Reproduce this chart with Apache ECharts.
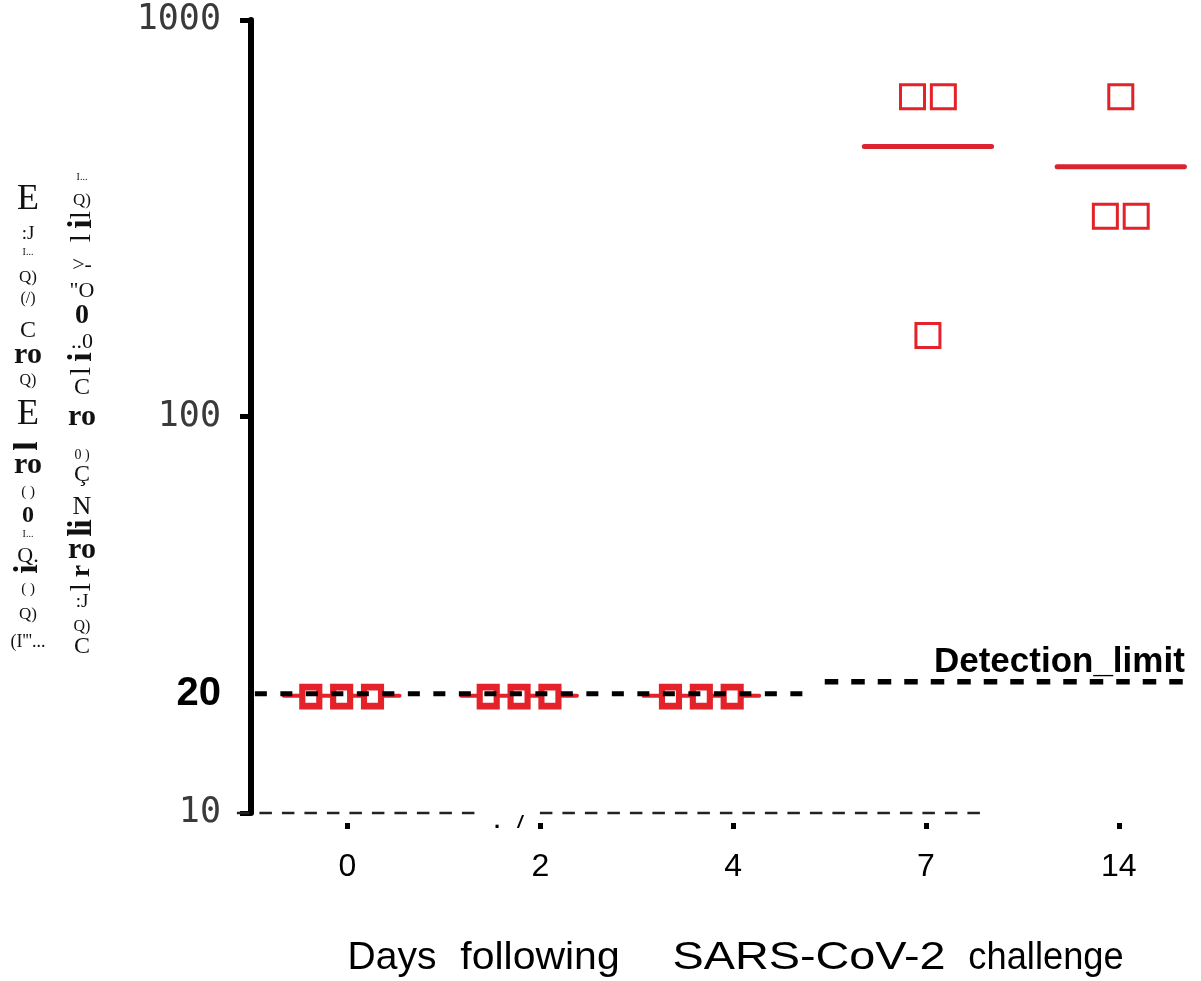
<!DOCTYPE html>
<html>
<head>
<meta charset="utf-8">
<script src="https://cdn.jsdelivr.net/npm/echarts@6/dist/echarts.min.js"></script>
<style>
  html, body { margin: 0; padding: 0; background: #fff; }
  #chart { width: 1201px; height: 981px; }
</style>
</head>
<body>
<div id="chart"></div>
<script>
// Neutralizing titers per animal, grouped by day after challenge
const days = ['0', '2', '4', '7', '14'];
const titerDay0 = [20, 20, 20];
const titerDay2 = [20, 20, 20];
const titerDay4 = [20, 20, 20];
const titerDay7 = [640, 640, 160];
const titerDay14 = [640, 320, 320];
const yTickValues = [10, 20, 100, 1000];
const detectionLimit = 20;
const xTitleWords = ['Days', 'following', 'SARS-CoV-2', 'challenge'];

const titers = [titerDay0, titerDay2, titerDay4, titerDay7, titerDay14];

// layout: horizontal nudge of each group and spacing between tied points (axis units)
const groupShift = [-0.03, -0.11, -0.165, 0.01, 0.01];
const tieSpacing = 0.16;
const RED = '#e4222a';

function spreadGroup(values, i) {
  const pts = [];
  const seen = {};
  values.forEach(v => { seen[v] = (seen[v] || 0) + 1; });
  const used = {};
  values.forEach(v => {
    const n = seen[v];
    const k = used[v] || 0;
    used[v] = k + 1;
    const off = (k - (n - 1) / 2) * tieSpacing;
    pts.push([i + groupShift[i] + off, v]);
  });
  return pts;
}

const atLimitPts = [];
const abovePts = [];
titers.forEach((vals, i) => {
  spreadGroup(vals, i).forEach(p => {
    (p[1] <= detectionLimit ? atLimitPts : abovePts).push(p);
  });
});

const meanData = titers.map((vals, i) => [
  i + groupShift[i],
  vals.reduce((a, b) => a + b, 0) / vals.length,
  i
]);

function renderMean(params, api) {
  const cx = api.value(0), v = api.value(1), i = api.value(2);
  const hw = i < 3 ? 0.3 : 0.33;
  const a = api.coord([cx - hw, v]);
  const b = api.coord([cx + hw, v]);
  const low = v <= detectionLimit;
  return {
    type: 'line',
    shape: { x1: a[0], y1: a[1] + (low ? 2 : 0), x2: b[0], y2: b[1] + (low ? 2 : 0) },
    style: { stroke: low ? RED : '#dc2430', lineWidth: low ? 4 : 5, lineCap: 'round' }
  };
}

function renderGuides(params, api) {
  const yMin = yTickValues[0];
  const seg = (x1, x2, v, dy, style) => {
    const a = api.coord([x1, v]);
    const b = api.coord([x2, v]);
    return { type: 'line', shape: { x1: a[0], y1: a[1] + dy, x2: b[0], y2: b[1] + dy }, style };
  };
  const base = { stroke: '#222', lineWidth: 2.5, lineDash: [12.5, 10] };
  const lim = { stroke: '#000', lineWidth: 5, lineDash: [12, 13.5] };
  const lim2 = { stroke: '#000', lineWidth: 5.5, lineDash: [13.5, 13] };
  const lbl = api.coord([4.342, detectionLimit]);
  return {
    type: 'group',
    children: [
      seg(-0.573, 0.687, yMin, 0, base),
      seg(0.998, 3.305, yMin, 0, base),
      seg(-0.48, 2.40, detectionLimit, 0, lim),
      seg(2.475, 4.38, detectionLimit, -12, lim2),
      {
        type: 'text',
        x: lbl[0], y: lbl[1] - 31,
        style: {
          text: 'Detection_limit',
          fontFamily: '"Liberation Sans Narrow", "Liberation Sans", Arial, sans-serif',
          fontWeight: 'bold', fontSize: 35, fill: '#000',
          align: 'right', verticalAlign: 'middle'
        }
      }
    ]
  };
}

// stacked glyphs of the vertical axis caption: [text, y, size, rotated, bold]
const captionLeft = [
  ['E', 200, 36], [':J', 234, 19], ['I...', 252, 10], ['Q)', 278, 17], ['(/)', 299, 16],
  ['C', 331, 24], ['ro', 355, 30, 0, 1], ['Q)', 381, 16], ['E', 415, 36],
  ['l', 446, 34, 1, 1], ['ro', 465, 30, 0, 1], ['( )', 492, 15], ['0', 516, 24, 0, 1],
  ['I...', 534, 10], ['Q.', 556, 22], ['i', 569, 34, 1, 1], ['( )', 589, 15],
  ['Q)', 615, 17], ["(I'''...", 642, 18]
];
const captionRight = [
  ['I...', 177, 10], ['Q)', 201, 17], ['l', 215, 30, 1], ['i', 224, 34, 1, 1], ['l', 238, 30, 1],
  ['>-', 265, 22], ['"O', 291, 22], ['0', 316, 28, 0, 1], ['..0', 342, 22],
  ['i', 357, 34, 1, 1], ['l', 371, 30, 1], ['C', 388, 24], ['ro', 417, 30, 0, 1],
  ['0 )', 455, 14], ['Ç', 475, 24], ['N', 507, 26], ['i', 524, 34, 1, 1], ['l', 532, 34, 1, 1],
  ['ro', 550, 30, 0, 1], ['r', 571, 28, 1, 1], ['l', 587, 30, 1], [':J', 602, 19],
  ['Q)', 627, 16], ['C', 647, 24]
];

function captionElements(list, x) {
  return list.map(([t, y, s, rot, bold]) => ({
    type: 'text',
    x: x, y: y,
    rotation: rot ? Math.PI / 2 : 0,
    style: {
      text: t, fontSize: s, fontFamily: '"Liberation Serif", "DejaVu Serif", serif',
      fontWeight: bold ? 'bold' : 'normal', fill: '#111',
      align: 'center', verticalAlign: 'middle'
    }
  }));
}

// centre and horizontal stretch of each word of the horizontal axis title
const titleCentres = [392, 540, 809, 1046];
const titleStretch = [1, 1.05, 1.2, 0.93];
function titleElements() {
  return xTitleWords.map((w, k) => ({
    type: 'text',
    x: titleCentres[k], y: 958,
    scaleX: titleStretch[k],
    style: {
      text: w, fontSize: 39, fill: '#000',
      fontFamily: '"Liberation Sans", Arial, sans-serif',
      align: 'center', verticalAlign: 'middle'
    }
  }));
}

const chart = echarts.init(document.getElementById('chart'), null, { renderer: 'canvas' });

chart.setOption({
  animation: false,
  backgroundColor: '#fff',
  grid: { left: 251, right: 5, top: 20, bottom: 168, containLabel: false },
  xAxis: {
    type: 'value',
    min: -0.5,
    max: 4.4,
    offset: 10,
    axisLine: { show: false, onZero: false },
    splitLine: { show: false },
    axisTick: {
      show: true, customValues: [0, 1, 2, 3, 4], length: 6,
      lineStyle: { color: '#000', width: 5 }
    },
    axisLabel: {
      customValues: [0, 1, 2, 3, 4],
      formatter: v => days[Math.round(v)],
      margin: 28,
      fontSize: 32,
      color: '#000',
      fontFamily: '"Liberation Sans", Arial, sans-serif'
    }
  },
  yAxis: {
    type: 'log',
    logBase: 10,
    min: yTickValues[0],
    max: yTickValues[yTickValues.length - 1],
    axisLine: { show: true, onZero: false, lineStyle: { color: '#000', width: 6 } },
    axisTick: { show: true, length: 11, lineStyle: { color: '#000', width: 5 } },
    minorTick: { show: false },
    splitLine: { show: false },
    axisLabel: {
      customValues: yTickValues,
      margin: 30,
      formatter: v => (Math.abs(v - detectionLimit) < 1e-6 ? '{lim|' + detectionLimit + '}' : '{n|' + Math.round(v) + '}'),
      rich: {
        n: { fontFamily: '"DejaVu Sans Mono", monospace', fontSize: 35, color: '#3a3a3a' },
        lim: { fontFamily: '"Liberation Sans", Arial, sans-serif', fontWeight: 'bold', fontSize: 40, color: '#000' }
      }
    }
  },
  series: [
    {
      name: 'mean',
      type: 'custom',
      renderItem: renderMean,
      data: meanData,
      z: 1,
      silent: true
    },
    {
      name: 'at limit',
      type: 'scatter',
      data: atLimitPts,
      symbol: 'rect',
      symbolSize: [17, 19],
      symbolOffset: [0, 3],
      itemStyle: { color: '#fff', borderColor: RED, borderWidth: 6.5, opacity: 1 },
      emphasis: { disabled: true },
      z: 2,
      silent: true
    },
    {
      name: 'above limit',
      type: 'scatter',
      data: abovePts,
      symbol: 'rect',
      symbolSize: 24,
      itemStyle: { color: '#fff', borderColor: RED, borderWidth: 3, opacity: 1 },
      emphasis: { disabled: true },
      z: 2,
      silent: true
    },
    {
      name: 'guides',
      type: 'custom',
      renderItem: renderGuides,
      data: [[0, detectionLimit]],
      z: 3,
      silent: true
    }
  ],
  graphic: [
    ...captionElements(captionLeft, 28),
    ...captionElements(captionRight, 82),
    ...titleElements(),
    { type: 'text', x: 497, y: 822, style: { text: '.', fontSize: 22, fontWeight: 'bold', fill: '#000', align: 'center', verticalAlign: 'middle' } },
    { type: 'text', x: 520, y: 823, style: { text: '/', fontSize: 18, fontWeight: 'bold', fontStyle: 'italic', fill: '#000', align: 'center', verticalAlign: 'middle' } }
  ]
});
</script>
</body>
</html>
